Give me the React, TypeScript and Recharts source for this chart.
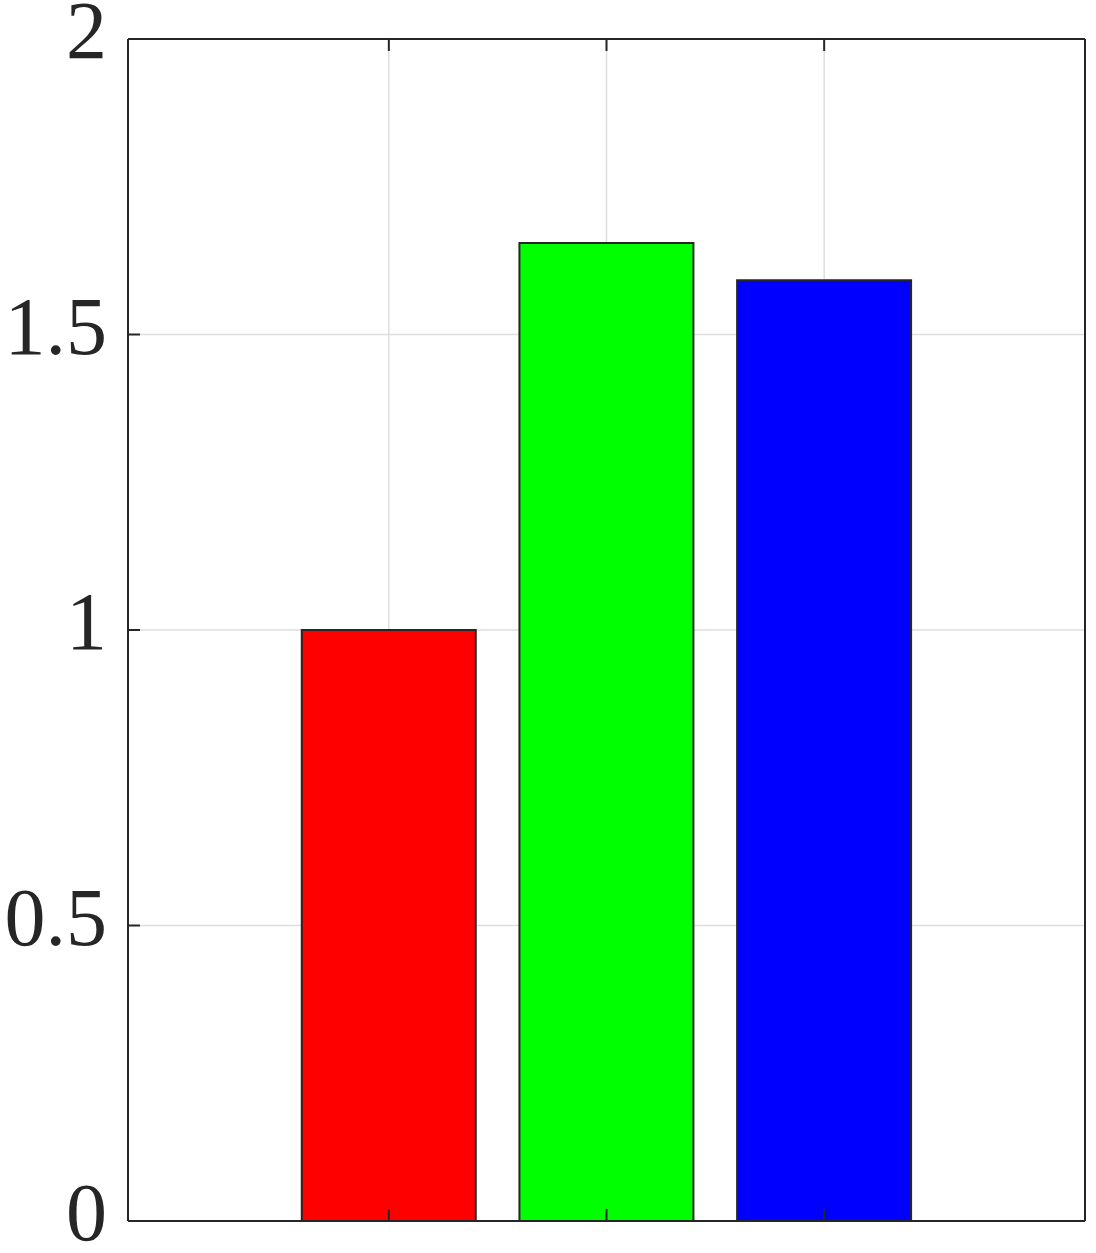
import React from "react"
import { BarChart, Bar, XAxis, YAxis, CartesianGrid, Cell } from "recharts"

const categories = ["1", "2", "3"]
const values = [1.0, 1.655, 1.592]
const barColors = ["#ff0000", "#00ff00", "#0000ff"]
const yTicks = [0, 0.5, 1, 1.5, 2]

const data = categories.map((name, i) => ({ name, value: values[i] }))

const AXIS = "#262626"

function YTick({ x, y, payload }: any) {
  return (
    <text
      x={x}
      y={y}
      dy={19}
      textAnchor="end"
      fill={AXIS}
      fontFamily="'Liberation Serif', 'DejaVu Serif', serif"
      fontSize={82}
    >
      {payload.value}
    </text>
  )
}

const line = { stroke: AXIS, strokeWidth: 2 }

export default function App() {
  return (
    <div style={{ position: "absolute", left: 0, top: 0, width: 1096, height: 1253, background: "#fff" }}>
      <BarChart
        width={1096}
        height={1253}
        data={data}
        margin={{ top: 38, right: 10, bottom: 31, left: 0 }}
        barCategoryGap="10%"
      >
        <CartesianGrid stroke="#dedede" strokeWidth={1.5} />
        <Bar dataKey="value" stroke={AXIS} strokeWidth={2} isAnimationActive={false}>
          {data.map((d, i) => (
            <Cell key={d.name} fill={barColors[i]} />
          ))}
        </Bar>
        <XAxis
          dataKey="name"
          height={1}
          padding={{ left: 152, right: 152 }}
          tickSize={-12}
          tickFormatter={() => ""}
          axisLine={line}
          tickLine={line}
        />
        <XAxis
          xAxisId="top"
          orientation="top"
          dataKey="name"
          height={1}
          padding={{ left: 152, right: 152 }}
          tickSize={-12}
          tickFormatter={() => ""}
          axisLine={line}
          tickLine={line}
        />
        <YAxis
          width={128}
          domain={[0, 2]}
          ticks={yTicks}
          interval={0}
          tickSize={-12}
          tickMargin={33}
          tick={<YTick />}
          axisLine={line}
          tickLine={line}
        />
        <YAxis
          yAxisId="right"
          orientation="right"
          width={1}
          domain={[0, 2]}
          ticks={yTicks}
          interval={0}
          tickSize={-12}
          tickFormatter={() => ""}
          axisLine={line}
          tickLine={line}
        />
      </BarChart>
    </div>
  )
}
